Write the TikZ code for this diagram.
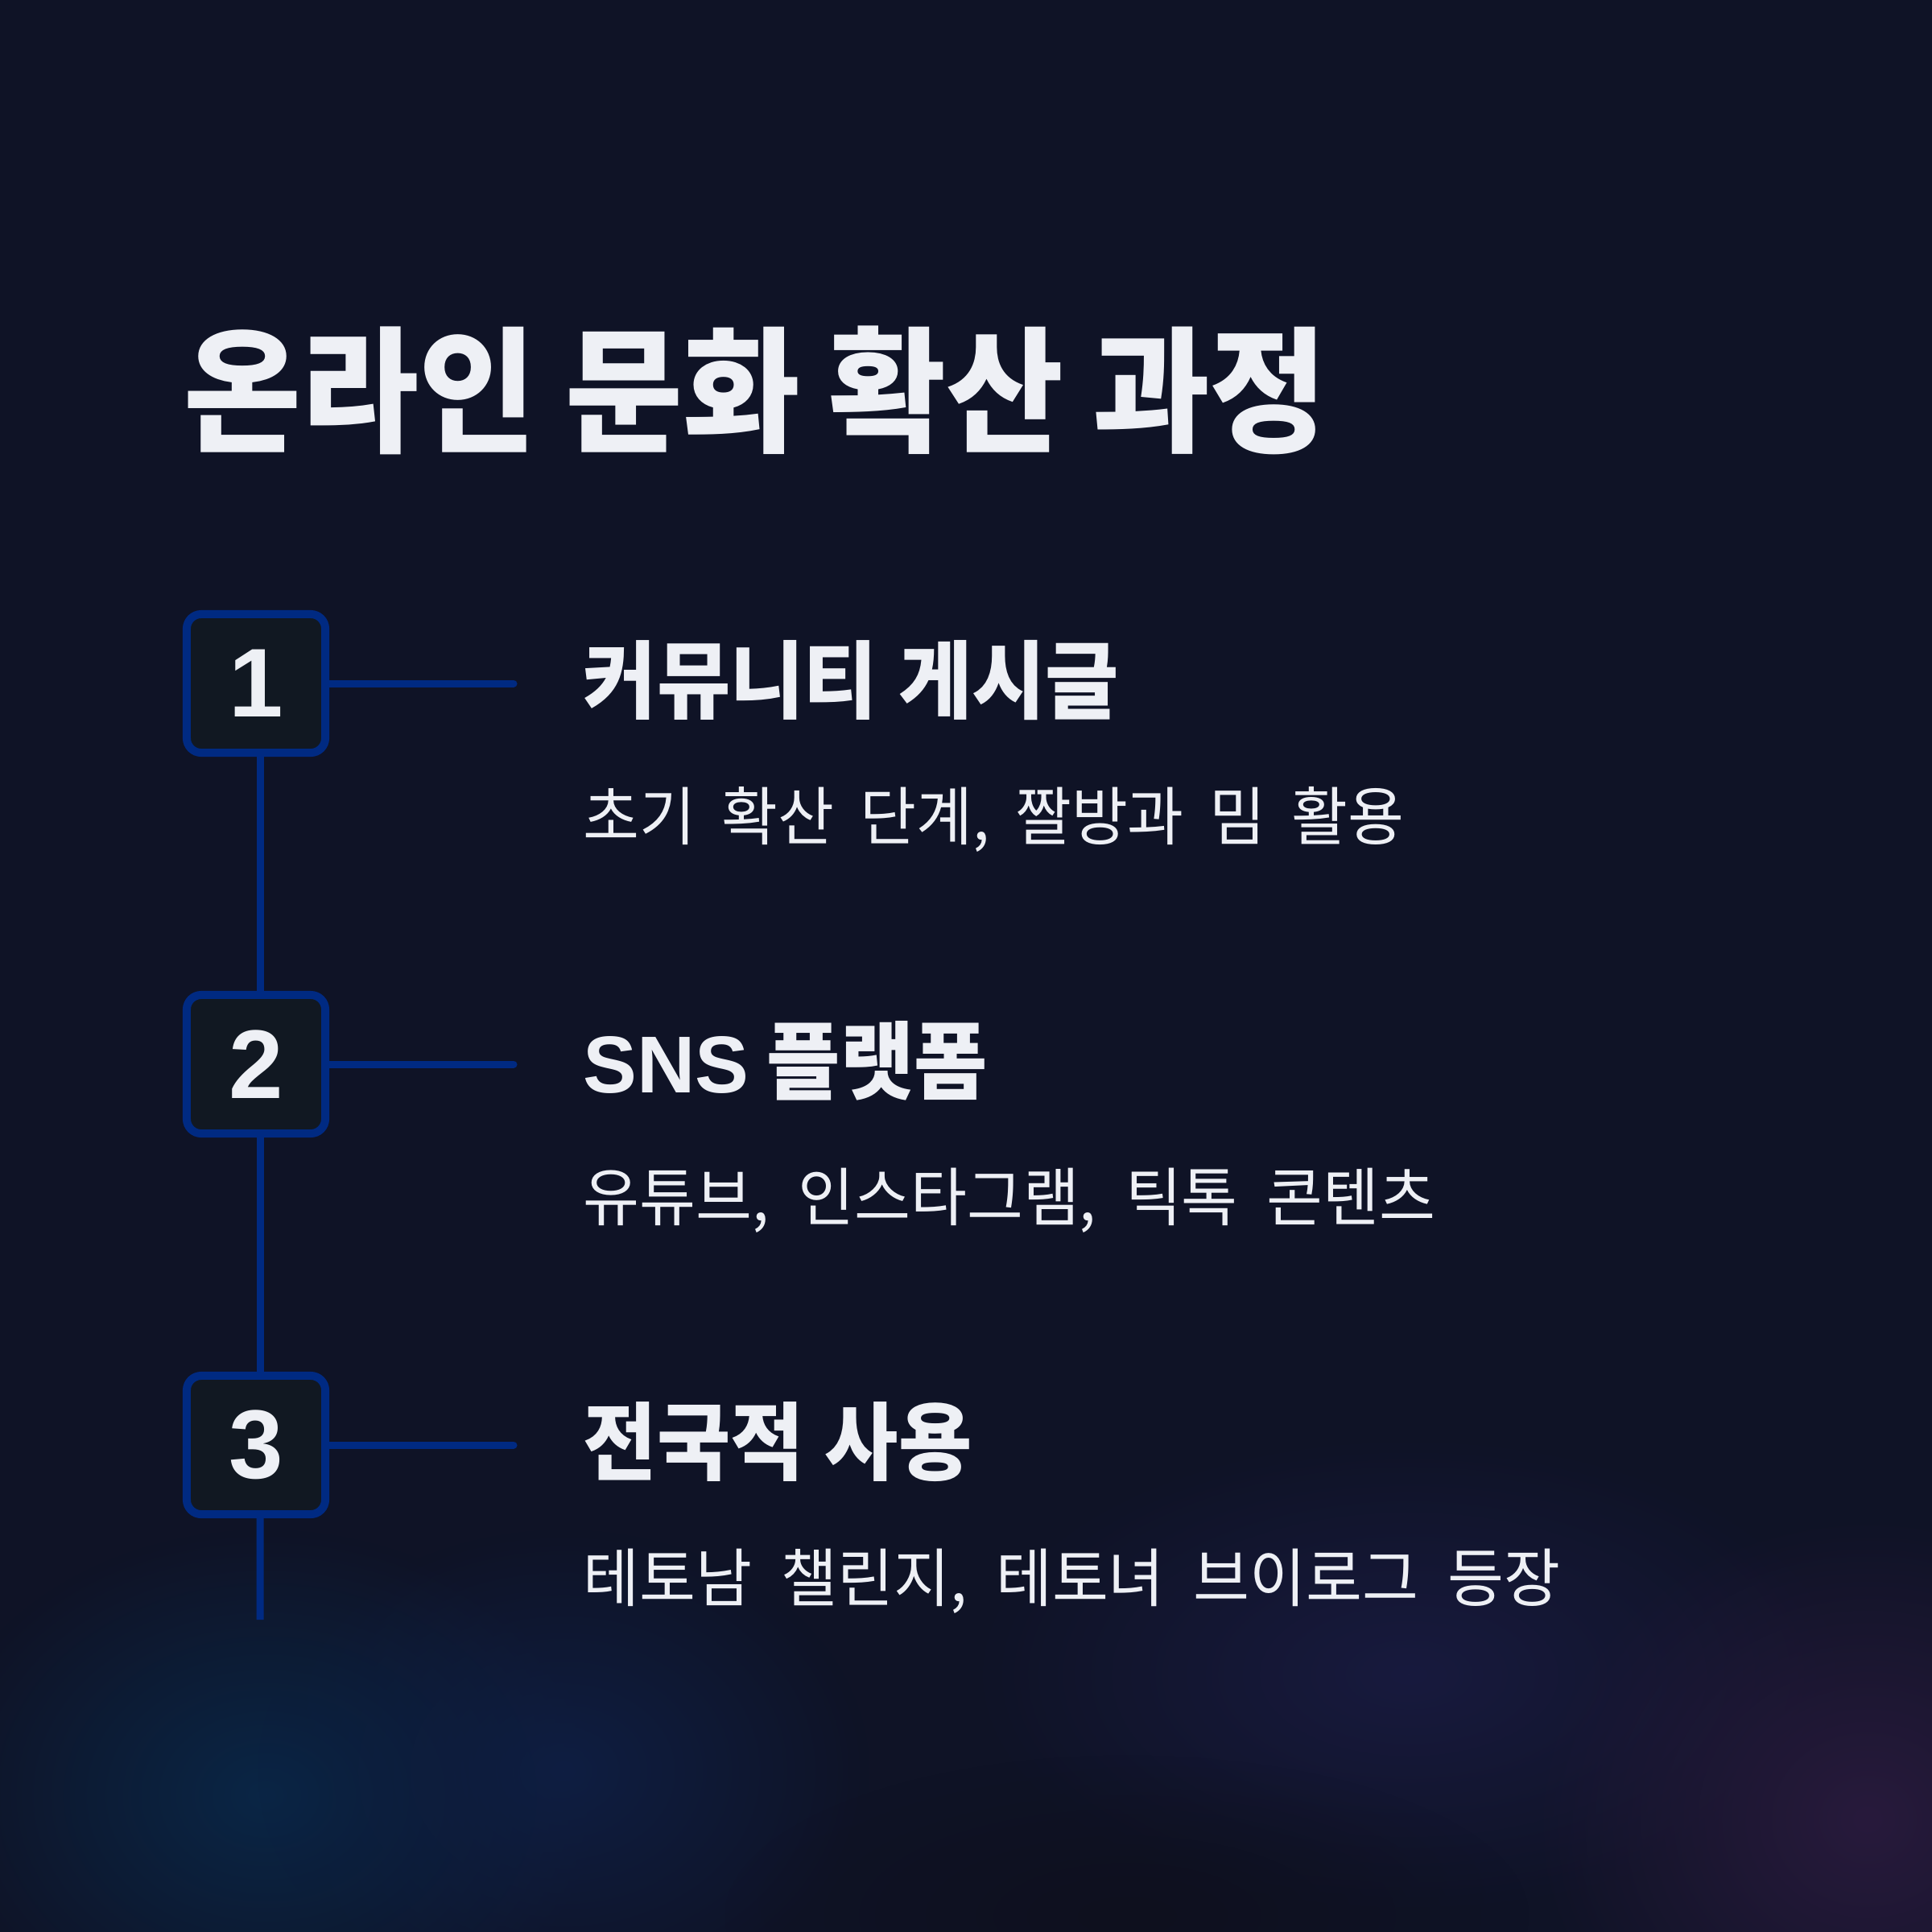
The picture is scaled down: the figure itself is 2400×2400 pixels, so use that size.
\documentclass[tikz,border=0pt]{standalone}
\usepackage{fontspec}
\setmainfont{Liberation Sans}
\newfontfamily\krtitle[FakeStretch=0.94]{Noto Sans CJK KR}
\newfontfamily\krhead[FakeStretch=0.941]{Noto Sans CJK KR}
\newfontfamily\krsub[FakeStretch=0.96]{Noto Sans CJK KR}
\usetikzlibrary{fadings}
\definecolor{bg}{RGB}{15,19,38}
\definecolor{boxfill}{RGB}{17,24,34}
\definecolor{bordblue}{RGB}{0,42,130}
\definecolor{txt}{RGB}{238,240,245}
\definecolor{glowteal}{RGB}{10,38,70}
\definecolor{glowblue}{RGB}{14,30,66}
\definecolor{glowpurple}{RGB}{40,26,60}
\definecolor{glowindigo}{RGB}{24,26,62}
\definecolor{glowdark}{RGB}{14,16,30}
\tikzfading[name=glowfade, inner color=transparent!0, outer color=transparent!100]
\begin{document}
\begin{tikzpicture}[x=0.01cm, y=-0.01cm,
  numbox/.style={draw=bordblue, line width=0.1cm, fill=boxfill, rounded corners=0.18cm,
    minimum size=1.72cm, inner sep=0pt, text=txt, font=\fontsize{34.5}{40}\selectfont\bfseries},
  link/.style={draw=bordblue, line width=0.09cm, line cap=round},
  vline/.style={draw=bordblue, line width=0.09cm},
  titletext/.style={anchor=west, inner sep=0pt, text=txt,
    font={\krtitle\bfseries\fontsize{48}{56}\selectfont\spaceskip=0.355cm\relax}},
  headtext/.style={anchor=west, inner sep=0pt, text=txt,
    font={\krhead\bfseries\fontsize{30}{36}\selectfont\spaceskip=0.26cm\relax}},
  subtext/.style={anchor=west, inner sep=0pt, text=txt,
    font={\krsub\fontsize{22.5}{28}\selectfont\spaceskip=0.36cm\relax}},
  subtight/.style={subtext,
    font={\krsub\fontsize{22.5}{28}\selectfont\spaceskip=0.32cm\relax}},
  glow/.style={path fading=glowfade}
]
\useasboundingbox (0,0) rectangle (2400,2400);
\fill[bg] (0,0) rectangle (2400,2400);
% background glows
\fill[glowteal, glow] (330,2230) ellipse [x radius=420, y radius=330];
\fill[glowblue, glow] (700,2200) ellipse [x radius=380, y radius=300];
\fill[glowindigo, glow] (1750,2080) ellipse [x radius=550, y radius=300];
\fill[glowpurple, glow] (2320,2260) ellipse [x radius=420, y radius=380];
\fill[glowdark, glow] (1400,2380) ellipse [x radius=500, y radius=200];

% title
\node[titletext] (title) at (228,485) {온라인 문화 확산 과정};

% step boxes
\node[numbox] (b1) at (318,849) {1};
\node[numbox] (b2) at (318,1322) {2};
\node[numbox] (b3) at (318,1795) {3};

\coordinate (c1) at (638,849);
\coordinate (c2) at (638,1322);
\coordinate (c3) at (638,1795);
\coordinate (vend) at (323,2012);

\draw[vline] ([xshift=0.05cm]b1.south) -- ([xshift=0.05cm]b2.north);
\draw[vline] ([xshift=0.05cm]b2.south) -- ([xshift=0.05cm]b3.north);
\draw[vline] ([xshift=0.05cm]b3.south) -- (vend);
\draw[link] (b1.east) -- (c1);
\draw[link] (b2.east) -- (c2);
\draw[link] (b3.east) -- (c3);

% texts
\node[headtext] (h1) at (724,845) {커뮤니티 게시글};
\node[subtight] (s1) at (724,1018) {초기 확산 단계, 짤방과 밈 활용};
\node[headtext] (h2) at (724,1318) {{\fontspec{Liberation Sans}\bfseries\fontsize{28.5}{34}\selectfont SNS}\hspace{0.22cm}플랫폼};
\node[subtext] (s2) at (724,1491) {유튜브, 인스타그램, 틱톡 콘텐츠};
\node[headtext] (h3) at (724,1791) {전국적 사용};
\node[subtext] (s3) at (724,1964) {테토남 챌린지, 테토녀 브이로그 등장};
\end{tikzpicture}
\end{document}
